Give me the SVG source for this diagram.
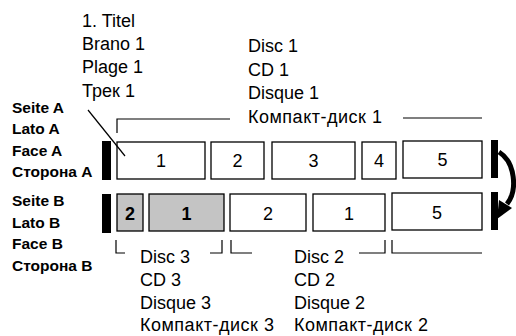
<svg xmlns="http://www.w3.org/2000/svg" width="516" height="336" viewBox="0 0 516 336">
<style>
text{font-family:"Liberation Sans",Arial,sans-serif;fill:#000}
.t{font-size:18px}
.c{letter-spacing:0.5px}
.b{font-size:15.5px;font-weight:bold}
.n{font-size:18px;text-anchor:middle}
.nb{font-size:18px;text-anchor:middle;font-weight:bold}
.box{fill:#fff;stroke:#000;stroke-width:1.3}
.sh{fill:#c4c4c4;stroke:#000;stroke-width:1.3}
.bar{fill:#000}
.ln{fill:none;stroke:#000;stroke-width:1.2}
</style>
<rect width="516" height="336" fill="#fff"/>
<g id="labels-top">
<text class="t" x="82" y="27">1. Titel</text>
<text class="t" x="82" y="50">Brano 1</text>
<text class="t" x="82" y="73">Plage 1</text>
<text class="t" x="82" y="97">Трек 1</text>
<text class="t" x="248" y="52">Disc 1</text>
<text class="t" x="248" y="76">CD 1</text>
<text class="t" x="248" y="99">Disque 1</text>
<text class="t c" x="248" y="123">Компакт-диск 1</text>
</g>
<g id="labels-side">
<text class="b" x="12" y="113">Seite A</text>
<text class="b" x="12" y="134">Lato A</text>
<text class="b" x="12" y="156">Face A</text>
<text class="b" x="12" y="177">Сторона A</text>
<text class="b" x="12" y="206">Seite B</text>
<text class="b" x="12" y="228">Lato B</text>
<text class="b" x="12" y="249">Face B</text>
<text class="b" x="12" y="271">Сторона B</text>
</g>
<g id="labels-bottom">
<text class="t" x="140" y="263">Disc 3</text>
<text class="t" x="140" y="286">CD 3</text>
<text class="t" x="140" y="309">Disque 3</text>
<text class="t c" x="140" y="331">Компакт-диск 3</text>
<text class="t" x="294" y="263">Disc 2</text>
<text class="t" x="294" y="286">CD 2</text>
<text class="t" x="294" y="309">Disque 2</text>
<text class="t c" x="294" y="331">Компакт-диск 2</text>
</g>
<g id="sideA">
<rect class="bar" x="102" y="141" width="9" height="39"/>
<rect class="bar" x="491" y="140" width="7" height="38"/>
<g id="a1"><rect class="box" x="117" y="142" width="88" height="37"/><text class="n" x="161" y="167">1</text></g>
<g id="a2"><rect class="box" x="211" y="142" width="53" height="37"/><text class="n" x="237.5" y="167">2</text></g>
<g id="a3"><rect class="box" x="272" y="142" width="83" height="37"/><text class="n" x="313.5" y="167">3</text></g>
<g id="a4"><rect class="box" x="362" y="142" width="34" height="37"/><text class="n" x="379" y="167">4</text></g>
<g id="a5"><rect class="box" x="403" y="141" width="79" height="37"/><text class="n" x="442.5" y="166">5</text></g>
</g>
<g id="sideB">
<rect class="bar" x="102" y="194" width="9" height="39"/>
<rect class="bar" x="491" y="192" width="7" height="38"/>
<g id="b1"><rect class="sh" x="117" y="194" width="26" height="37"/><text class="nb" x="130" y="220">2</text></g>
<g id="b2"><rect class="sh" x="149" y="194" width="75" height="37"/><text class="nb" x="186.5" y="220">1</text></g>
<g id="b3"><rect class="box" x="230" y="194" width="76" height="37"/><text class="n" x="268" y="220">2</text></g>
<g id="b4"><rect class="box" x="313" y="194" width="72" height="37"/><text class="n" x="349" y="220">1</text></g>
<g id="b5"><rect class="box" x="392" y="193" width="90" height="37"/><text class="n" x="437" y="219">5</text></g>
</g>
<g id="connectors">
<line class="ln" x1="88" y1="110" x2="125" y2="156"/>
<polyline class="ln" points="117,133 117,119 230,119"/>
<line class="ln" x1="403" y1="118" x2="482" y2="118"/>
<polyline class="ln" points="116,240 116,253 125,253"/>
<polyline class="ln" points="210,253 222,253 222,240"/>
<polyline class="ln" points="231,240 231,253 252,253"/>
<polyline class="ln" points="359,253 385,253 385,240"/>
<polyline class="ln" points="392,240 392,253 482,253"/>
<path d="M499 152 C515 162 518 190 507 204" fill="none" stroke="#000" stroke-width="5"/>
<polygon points="497,219 499,200 512,208" fill="#000"/>
</g>
</svg>
